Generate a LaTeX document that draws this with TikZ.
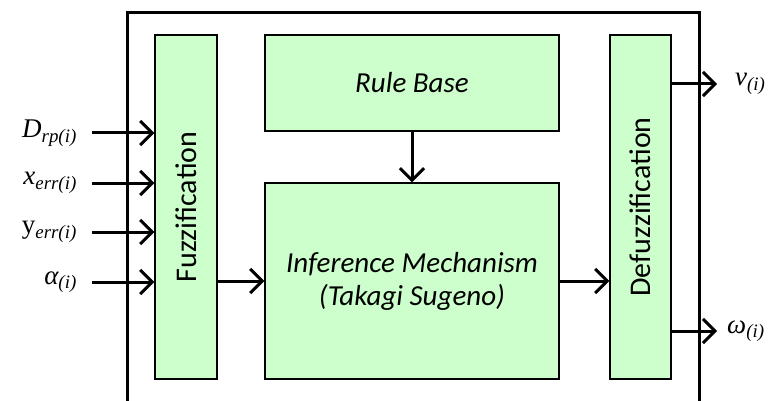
\documentclass[tikz,border=0pt]{standalone}
\usepackage{fontspec}
\setmainfont{Carlito}
\newfontfamily\siglabfont{Liberation Serif}
\usetikzlibrary{positioning,arrows.meta}
\definecolor{blockgreen}{HTML}{CCFFCC}
\tikzset{
  blockbox/.style={draw=black, fill=blockgreen, line width=1.3pt, align=center, inner sep=0pt},
  blocktext/.style={font=\fontsize{29}{33}\selectfont\itshape, align=center},
  sidetext/.style={font=\fontsize{30}{34}\selectfont, rotate=90, inner sep=0pt},
  frameline/.style={line width=3pt, draw=black},
  sig/.style={-{Straight Barb[length=12pt, width=24pt]}, line width=3pt},
  inlab/.style={anchor=east, inner xsep=15pt, inner ysep=0pt, font=\fontsize{27}{30}\selectfont\siglabfont},
  outlab/.style={anchor=west, inner xsep=10pt, inner ysep=0pt, font=\fontsize{27}{30}\selectfont\siglabfont},
}
\newcommand{\siglab}[2]{#1\textsubscript{\itshape #2}}

\begin{document}
\begin{tikzpicture}[x=1pt, y=-1pt]
\useasboundingbox (0,0) rectangle (771,401);
% controller frame, open at the bottom
\coordinate (fbl) at (127,401);
\coordinate (ftl) at (127,13);
\coordinate (ftr) at (699,13);
\coordinate (fbr) at (699,401);
\draw[frameline] (fbl) -- (ftl) -- (ftr) -- (fbr);
% blocks
\node[blockbox, minimum width=62pt, minimum height=344pt] (fuzz) at (186,207) {};
\node[sidetext] at (fuzz) {Fuzzification};
\node[blockbox, minimum width=294pt, minimum height=96pt] (rules) at (412,83) {};
\node[blocktext] at (rules) {Rule Base};
\node[blockbox, minimum width=294pt, minimum height=196pt] (infer) at (412,281) {};
\node[blocktext] at (infer) {Inference Mechanism\\(Takagi Sugeno)};
\node[blockbox, minimum width=61pt, minimum height=344pt] (defuzz) at (640.5,207) {};
\node[sidetext] at (defuzz) {Defuzzification};
% inputs
\node[inlab] (drp) at (92,133) {\siglab{\itshape D}{rp(i)}};
\node[inlab] (xerr) at (92,183) {\siglab{\itshape x}{err(i)}};
\node[inlab] (yerr) at (92,232) {\siglab{y}{err(i)}};
\node[inlab] (alpha) at (92,282) {\siglab{\itshape α}{(i)}};
\foreach \s in {drp,xerr,yerr,alpha}
  \draw[sig] (\s.east) -- (\s.east -| fuzz.west);
% outputs
\node[outlab, inner xsep=18pt] (vout) at (717,84) {\siglab{\itshape v}{(i)}};
\node[outlab] (wout) at (717,331) {\siglab{\itshape ω}{(i)}};
\draw[sig] (defuzz.east |- vout.west) -- (vout.west);
\draw[sig] (defuzz.east |- wout.west) -- (wout.west);
% flows between blocks
\draw[sig] (rules) -- (infer);
\draw[sig] (fuzz.east |- infer.west) -- (infer.west);
\draw[sig] (infer.east) -- (infer.east -| defuzz.west);
\end{tikzpicture}
\end{document}
